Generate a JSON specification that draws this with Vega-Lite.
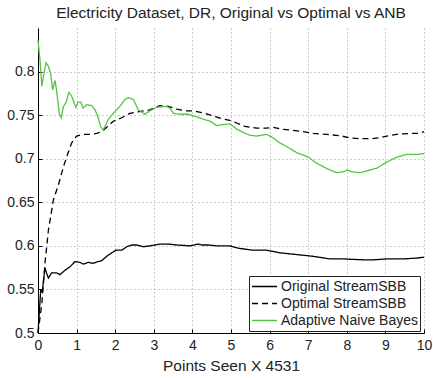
{
  "$schema": "https://vega.github.io/schema/vega-lite/v6.json",
  "width": 386,
  "height": 305,
  "autosize": {"type": "none"},
  "padding": {"left": 38, "top": 28, "right": 9, "bottom": 45},
  "background": "white",
  "title": {"text": "Electricity Dataset, DR, Original vs Optimal vs ANB", "font": "Liberation Sans", "fontSize": 15.5, "fontWeight": "normal", "color": "#222", "anchor": "middle", "offset": 7},
  "config": {
    "view": {"stroke": null},
    "font": "Liberation Sans"
  },
  "datasets": {
    "orig": [
      {"x":0.0,"y":0.50},{"x":0.07,"y":0.549},{"x":0.11,"y":0.547},{"x":0.18,"y":0.575},{"x":0.22,"y":0.569},{"x":0.27,"y":0.563},{"x":0.35,"y":0.569},{"x":0.48,"y":0.569},{"x":0.57,"y":0.567},{"x":0.70,"y":0.572},{"x":0.83,"y":0.576},{"x":0.96,"y":0.582},{"x":1.09,"y":0.581},{"x":1.17,"y":0.579},{"x":1.30,"y":0.581},{"x":1.43,"y":0.580},{"x":1.56,"y":0.582},{"x":1.65,"y":0.583},{"x":1.78,"y":0.588},{"x":1.91,"y":0.592},{"x":2.02,"y":0.595},{"x":2.17,"y":0.595},{"x":2.30,"y":0.599},{"x":2.43,"y":0.601},{"x":2.55,"y":0.601},{"x":2.73,"y":0.599},{"x":2.90,"y":0.600},{"x":3.16,"y":0.602},{"x":3.38,"y":0.602},{"x":3.60,"y":0.601},{"x":3.94,"y":0.600},{"x":4.15,"y":0.602},{"x":4.25,"y":0.601},{"x":4.41,"y":0.601},{"x":4.63,"y":0.600},{"x":4.97,"y":0.600},{"x":5.23,"y":0.597},{"x":5.58,"y":0.595},{"x":5.92,"y":0.595},{"x":6.27,"y":0.592},{"x":6.70,"y":0.590},{"x":7.13,"y":0.588},{"x":7.56,"y":0.585},{"x":7.91,"y":0.585},{"x":8.43,"y":0.584},{"x":8.70,"y":0.584},{"x":9.03,"y":0.585},{"x":9.46,"y":0.585},{"x":9.81,"y":0.586},{"x":10.0,"y":0.587}
    ],
    "opt": [
      {"x":0.0,"y":0.50},{"x":0.10,"y":0.534},{"x":0.18,"y":0.580},{"x":0.27,"y":0.618},{"x":0.40,"y":0.653},{"x":0.53,"y":0.670},{"x":0.66,"y":0.691},{"x":0.79,"y":0.708},{"x":0.87,"y":0.718},{"x":1.00,"y":0.726},{"x":1.17,"y":0.728},{"x":1.35,"y":0.728},{"x":1.52,"y":0.729},{"x":1.65,"y":0.731},{"x":1.80,"y":0.737},{"x":1.95,"y":0.743},{"x":2.17,"y":0.747},{"x":2.38,"y":0.752},{"x":2.62,"y":0.754},{"x":2.90,"y":0.756},{"x":3.03,"y":0.759},{"x":3.16,"y":0.761},{"x":3.37,"y":0.760},{"x":3.59,"y":0.757},{"x":3.81,"y":0.755},{"x":4.02,"y":0.755},{"x":4.24,"y":0.753},{"x":4.54,"y":0.749},{"x":4.76,"y":0.746},{"x":4.97,"y":0.744},{"x":5.15,"y":0.741},{"x":5.36,"y":0.737},{"x":5.67,"y":0.735},{"x":5.90,"y":0.735},{"x":6.10,"y":0.736},{"x":6.30,"y":0.734},{"x":6.53,"y":0.733},{"x":6.87,"y":0.731},{"x":7.13,"y":0.729},{"x":7.48,"y":0.728},{"x":7.87,"y":0.726},{"x":8.08,"y":0.724},{"x":8.34,"y":0.723},{"x":8.64,"y":0.723},{"x":8.86,"y":0.724},{"x":9.03,"y":0.726},{"x":9.29,"y":0.728},{"x":9.64,"y":0.729},{"x":9.85,"y":0.729},{"x":10.0,"y":0.731}
    ],
    "anb": [
      {"x":0.0,"y":0.836},{"x":0.05,"y":0.814},{"x":0.10,"y":0.783},{"x":0.14,"y":0.795},{"x":0.21,"y":0.810},{"x":0.27,"y":0.806},{"x":0.33,"y":0.797},{"x":0.38,"y":0.779},{"x":0.44,"y":0.790},{"x":0.48,"y":0.779},{"x":0.55,"y":0.752},{"x":0.60,"y":0.747},{"x":0.66,"y":0.760},{"x":0.73,"y":0.765},{"x":0.80,"y":0.776},{"x":0.87,"y":0.772},{"x":0.98,"y":0.759},{"x":1.04,"y":0.765},{"x":1.11,"y":0.765},{"x":1.17,"y":0.758},{"x":1.26,"y":0.762},{"x":1.39,"y":0.761},{"x":1.48,"y":0.756},{"x":1.56,"y":0.747},{"x":1.62,"y":0.737},{"x":1.69,"y":0.733},{"x":1.82,"y":0.745},{"x":1.95,"y":0.752},{"x":2.12,"y":0.760},{"x":2.25,"y":0.768},{"x":2.34,"y":0.770},{"x":2.47,"y":0.768},{"x":2.60,"y":0.756},{"x":2.77,"y":0.751},{"x":2.90,"y":0.755},{"x":3.07,"y":0.759},{"x":3.33,"y":0.760},{"x":3.42,"y":0.758},{"x":3.51,"y":0.752},{"x":3.68,"y":0.751},{"x":3.89,"y":0.751},{"x":4.11,"y":0.748},{"x":4.24,"y":0.746},{"x":4.46,"y":0.743},{"x":4.63,"y":0.738},{"x":4.76,"y":0.739},{"x":4.97,"y":0.740},{"x":5.15,"y":0.734},{"x":5.32,"y":0.730},{"x":5.49,"y":0.727},{"x":5.67,"y":0.726},{"x":5.92,"y":0.728},{"x":6.05,"y":0.725},{"x":6.27,"y":0.718},{"x":6.44,"y":0.714},{"x":6.70,"y":0.707},{"x":7.00,"y":0.702},{"x":7.21,"y":0.695},{"x":7.47,"y":0.689},{"x":7.73,"y":0.684},{"x":7.91,"y":0.685},{"x":8.01,"y":0.687},{"x":8.13,"y":0.685},{"x":8.34,"y":0.684},{"x":8.60,"y":0.687},{"x":8.77,"y":0.689},{"x":8.99,"y":0.695},{"x":9.25,"y":0.701},{"x":9.55,"y":0.705},{"x":9.68,"y":0.705},{"x":9.85,"y":0.705},{"x":10.0,"y":0.706}
    ]
  },
  "encoding": {
    "x": {"field": "x", "type": "quantitative", "scale": {"domain": [0, 10], "nice": false},
      "axis": {"values": [0,1,2,3,4,5,6,7,8,9,10], "tickCount": 20, "format": "d", "title": "Points Seen X 4531", "titleFont": "Liberation Sans", "titleFontSize": 15.5, "titleFontWeight": "normal", "titleColor": "#222", "titlePadding": 6,
        "labelFont": "Liberation Sans", "labelFontSize": 14, "labelColor": "#222", "labelPadding": 9, "labelFlush": false, "labelOverlap": false, "labelBound": false,
        "domainColor": "black", "tickColor": "black", "tickSize": -4, "grid": true, "gridColor": "#999", "gridDash": [1, 3], "gridWidth": 1}},
    "y": {"field": "y", "type": "quantitative", "scale": {"domain": [0.5, 0.85], "nice": false, "zero": false},
      "axis": {"values": [0.5,0.55,0.6,0.65,0.7,0.75,0.8], "tickCount": 20, "format": ".2~f", "title": null,
        "labelFont": "Liberation Sans", "labelFontSize": 14, "labelColor": "#222", "labelPadding": 8, "labelOverlap": false,
        "domainColor": "black", "tickColor": "black", "tickSize": -4, "grid": true, "gridColor": "#999", "gridDash": [1, 3], "gridWidth": 1}},
    "color": {"field": "s", "type": "nominal",
      "scale": {"domain": ["Original StreamSBB", "Optimal StreamSBB", "Adaptive Naive Bayes"], "range": ["black", "black", "#55c444"]},
      "legend": {"title": null, "orient": "none", "legendX": 211, "legendY": 248, "direction": "vertical",
        "fillColor": "white", "strokeColor": "#222", "padding": 2, "symbolType": "stroke", "symbolSize": 625, "symbolStrokeWidth": 1.5,
        "clipHeight": 17, "labelFont": "Liberation Sans", "labelFontSize": 14, "labelColor": "#222", "labelOffset": 3, "rowPadding": 0}},
    "strokeDash": {"field": "s", "type": "nominal",
      "scale": {"domain": ["Original StreamSBB", "Optimal StreamSBB", "Adaptive Naive Bayes"], "range": [[1, 0], [6, 4], [1, 0]]},
      "legend": null}
  },
  "layer": [
    {
      "data": {"name": "orig"},
      "transform": [{"calculate": "'Original StreamSBB'", "as": "s"}],
      "mark": {"type": "line", "strokeWidth": 1.3}
    },
    {
      "data": {"name": "opt"},
      "transform": [{"calculate": "'Optimal StreamSBB'", "as": "s"}],
      "mark": {"type": "line", "strokeWidth": 1.3}
    },
    {
      "data": {"name": "anb"},
      "transform": [{"calculate": "'Adaptive Naive Bayes'", "as": "s"}],
      "mark": {"type": "line", "strokeWidth": 1.3}
    }
  ]
}
